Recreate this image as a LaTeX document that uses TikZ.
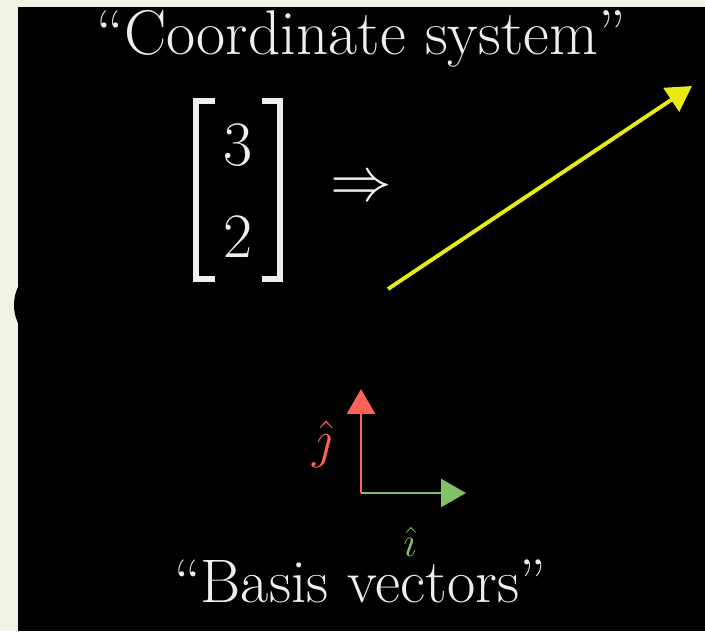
\RequirePackage{fix-cm}
\documentclass[tikz,border=0pt]{standalone}
\usepackage{amsmath,amssymb}
\usetikzlibrary{arrows.meta,positioning,calc}
\usepackage{xcolor}
\definecolor{bgpaper}{HTML}{EFF2E4}
\definecolor{chalk}{HTML}{EEEEEE}
\definecolor{vecyellow}{HTML}{EAEA10}
\definecolor{ihatgreen}{HTML}{83C167}
\definecolor{jhatred}{HTML}{FC6255}
\tikzset{
  bbtext/.style={text=chalk, inner sep=0pt, font=\fontsize{36}{42}\selectfont},
  bbdigit/.style={text=chalk, inner sep=0pt, font=\fontsize{36}{42}\selectfont},
  bbhat/.style={inner sep=0pt, font=\fontsize{24}{30}\selectfont},
  bbbracket/.style={draw=chalk, line width=3.3pt},
  bbvec/.style={-{Triangle[length=5mm, width=5.6mm]}, line width=1.6pt},
}

\begin{document}
\begin{tikzpicture}[x=0.02cm, y=-0.02cm]
  \useasboundingbox (0,0) rectangle (705,631);
  \fill[bgpaper] (0,0) rectangle (705,631);
  \fill[black] (18,7) rectangle (705,631);
  \fill[black] (56.5,305) circle (42.5);

  \node[bbtext, anchor=base] (coordtext) at (361,55) {``Coordinate system''};

  % column vector
  \node[bbdigit] (three) at (238,145) {3};
  \node[bbdigit] (two) at (238,237) {2};
  \draw[bbbracket] (215,101) -- (196,101) -- (196,279) -- (215,279);
  \draw[bbbracket] (262,101) -- (280,101) -- (280,279) -- (262,279);
  \node[bbdigit, font=\fontsize{35}{42}\selectfont] (implies) at (361,189) {$\Rightarrow$};

  \coordinate (vtail) at (388,289);
  \coordinate (vtip) at (692,86);
  \draw[bbvec, vecyellow, line width=2.2pt] (vtail) -- (vtip);

  % basis vectors
  \coordinate (origin) at (361,493);
  \coordinate (jtip) at (361,389);
  \coordinate (itip) at (466,493);
  \draw[bbvec, jhatred] (origin) -- (jtip);
  \draw[bbvec, ihatgreen] (origin) -- (itip);
  \node[bbhat, text=jhatred, font=\fontsize{30}{36}\selectfont] (jlabel) at (322,444) {$\hat{\jmath}$};
  \node[bbhat, text=ihatgreen, anchor=base] (ilabel) at (410,556) {$\hat{\imath}$};

  \node[bbtext, font=\fontsize{35}{42}\selectfont, anchor=base] (basistext) at (360,602) {``Basis vectors''};
\end{tikzpicture}
\end{document}
